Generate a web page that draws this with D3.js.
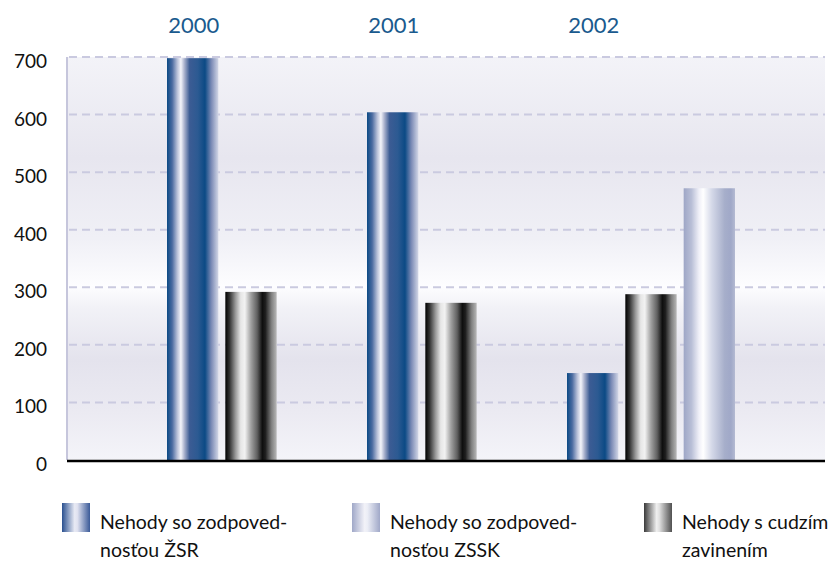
<!DOCTYPE html>
<html><head><meta charset="utf-8">
<script src="https://cdn.jsdelivr.net/npm/d3@7"></script>
<style>body{margin:0;background:#fff}svg{display:block}text{font-family:Lato,"Open Sans",sans-serif}</style>
</head><body>
<svg id="c" width="835" height="567"></svg>
<script>
const years = ["2000","2001","2002"];
const seriesKeys = ["zsr","cudzie","zssk"];
const seriesNames = {zsr:["Nehody so zodpoved-","nosťou ŽSR"], zssk:["Nehody so zodpoved-","nosťou ZSSK"], cudzie:["Nehody s cudzím","zavinením"]};
const zsrValues = [698, 604, 151];
const cudzieValues = [292, 273, 288];
const zsskValues = [null, null, 472];
const yTicks = [0,100,200,300,400,500,600,700];

const svg = d3.select("#c");
const L=67, R=825, T=57, B=460;
const y = d3.scaleLinear().domain([0,700]).range([B,T]);
const x0 = d3.scaleBand().domain(years).range([L+100, L+700]).paddingInner(0);
const x1 = d3.scaleBand().domain(seriesKeys).range([0,168]).paddingInner(0.12).paddingOuter(0);

const defs = svg.append("defs");
function grad(id, stops, vertical){
  const g = defs.append("linearGradient").attr("id",id)
    .attr("x1",0).attr("y1",0).attr("x2",vertical?0:1).attr("y2",vertical?1:0);
  stops.forEach(s=>g.append("stop").attr("offset",s[0]).attr("stop-color",s[1]));
}
grad("bg",[[0,"#f3f3f8"],[0.25,"#e7e6ef"],[0.45,"#f0f0f6"],[0.57,"#fdfdff"],[0.62,"#f2f2f7"],[0.75,"#e4e3ed"],[0.88,"#ebeaf2"],[1,"#f4f4f9"]],true);
grad("g_zsr",[[0,"#0b4a85"],[0.1,"#4a6aa0"],[0.2,"#b8c0d8"],[0.27,"#f4f4fa"],[0.34,"#a8b0cc"],[0.44,"#3c5c94"],[0.6,"#2c5a92"],[0.74,"#0b4a85"],[0.86,"#7888b4"],[1,"#d2d6e6"]]);
grad("g_cudzie",[[0,"#000000"],[0.08,"#303030"],[0.2,"#9a9a9a"],[0.3,"#e6e6e6"],[0.38,"#f2f2f2"],[0.5,"#a0a0a0"],[0.62,"#606060"],[0.72,"#0e0e0e"],[0.78,"#1e1e1e"],[0.9,"#808080"],[1,"#b8b8b8"]]);
grad("g_zssk",[[0,"#9ea6c6"],[0.15,"#b8bed6"],[0.3,"#f0f0f8"],[0.38,"#ffffff"],[0.55,"#d4d8e8"],[0.8,"#a6aeca"],[0.92,"#a0a8c8"],[1,"#b4bad2"]]);
grad("l_zsr",[[0,"#2a5090"],[0.45,"#e8eaf4"],[0.55,"#e0e2f0"],[1,"#3a5a98"]]);
grad("l_zssk",[[0,"#a0a8c8"],[0.45,"#f2f2f8"],[0.55,"#eceef6"],[1,"#a0a8c8"]]);
grad("l_cudzie",[[0,"#3a3a3a"],[0.45,"#f0f0f0"],[0.55,"#e0e0e0"],[1,"#505050"]]);

svg.append("rect").attr("x",L).attr("y",T).attr("width",R-L).attr("height",B-T).attr("fill","url(#bg)");

svg.append("g").selectAll("line").data(yTicks.filter(d=>d>0)).join("line")
  .attr("x1",L+2).attr("x2",R).attr("y1",d=>y(d)).attr("y2",d=>y(d))
  .attr("stroke","#cacae0").attr("stroke-width",2).attr("stroke-dasharray","8,5");

svg.append("line").attr("x1",L).attr("x2",L).attr("y1",T).attr("y2",B).attr("stroke","#c6c6dc").attr("stroke-width",2);

svg.append("g").selectAll("text").data(yTicks).join("text")
  .attr("x",47).attr("y",d=>y(d)+11).attr("text-anchor","end")
  .attr("font-size",19).attr("fill","#111").text(d=>d);

svg.append("g").selectAll("text").data(years).join("text")
  .attr("x",d=>x0(d)+x1.bandwidth()/2+1).attr("y",33).attr("text-anchor","middle")
  .attr("font-size",22).attr("fill","#1a5a8e").text(d=>d);

const valuesBy = {zsr:zsrValues, cudzie:cudzieValues, zssk:zsskValues};
const data = [];
years.forEach((yr,i)=>seriesKeys.forEach(k=>{ if(valuesBy[k][i]!=null) data.push({yr,k,v:valuesBy[k][i]}); }));
svg.append("g").selectAll("rect").data(data).join("rect")
  .attr("x",d=>x0(d.yr)+x1(d.k)).attr("width",x1.bandwidth())
  .attr("y",d=>y(d.v)).attr("height",d=>B-y(d.v))
  .attr("fill",d=>"url(#g_"+d.k+")");

svg.append("line").attr("x1",L).attr("x2",R).attr("y1",B+1).attr("y2",B+1).attr("stroke","#000").attr("stroke-width",2.5);

const legendOrder = ["zsr","zssk","cudzie"];
const legX = d3.scaleOrdinal().domain(legendOrder).range([62,352,644]);
const lg = svg.append("g").selectAll("g").data(legendOrder).join("g")
  .attr("transform",d=>`translate(${legX(d)},503)`);
lg.append("rect").attr("width",28).attr("height",29).attr("fill",d=>"url(#l_"+d+")");
lg.append("text").attr("x",38).attr("y",26).attr("font-size",19.5).attr("fill","#111").text(d=>seriesNames[d][0]);
lg.append("text").attr("x",38).attr("y",54).attr("font-size",19.5).attr("fill","#111").text(d=>seriesNames[d][1]);
</script>
</body></html>
